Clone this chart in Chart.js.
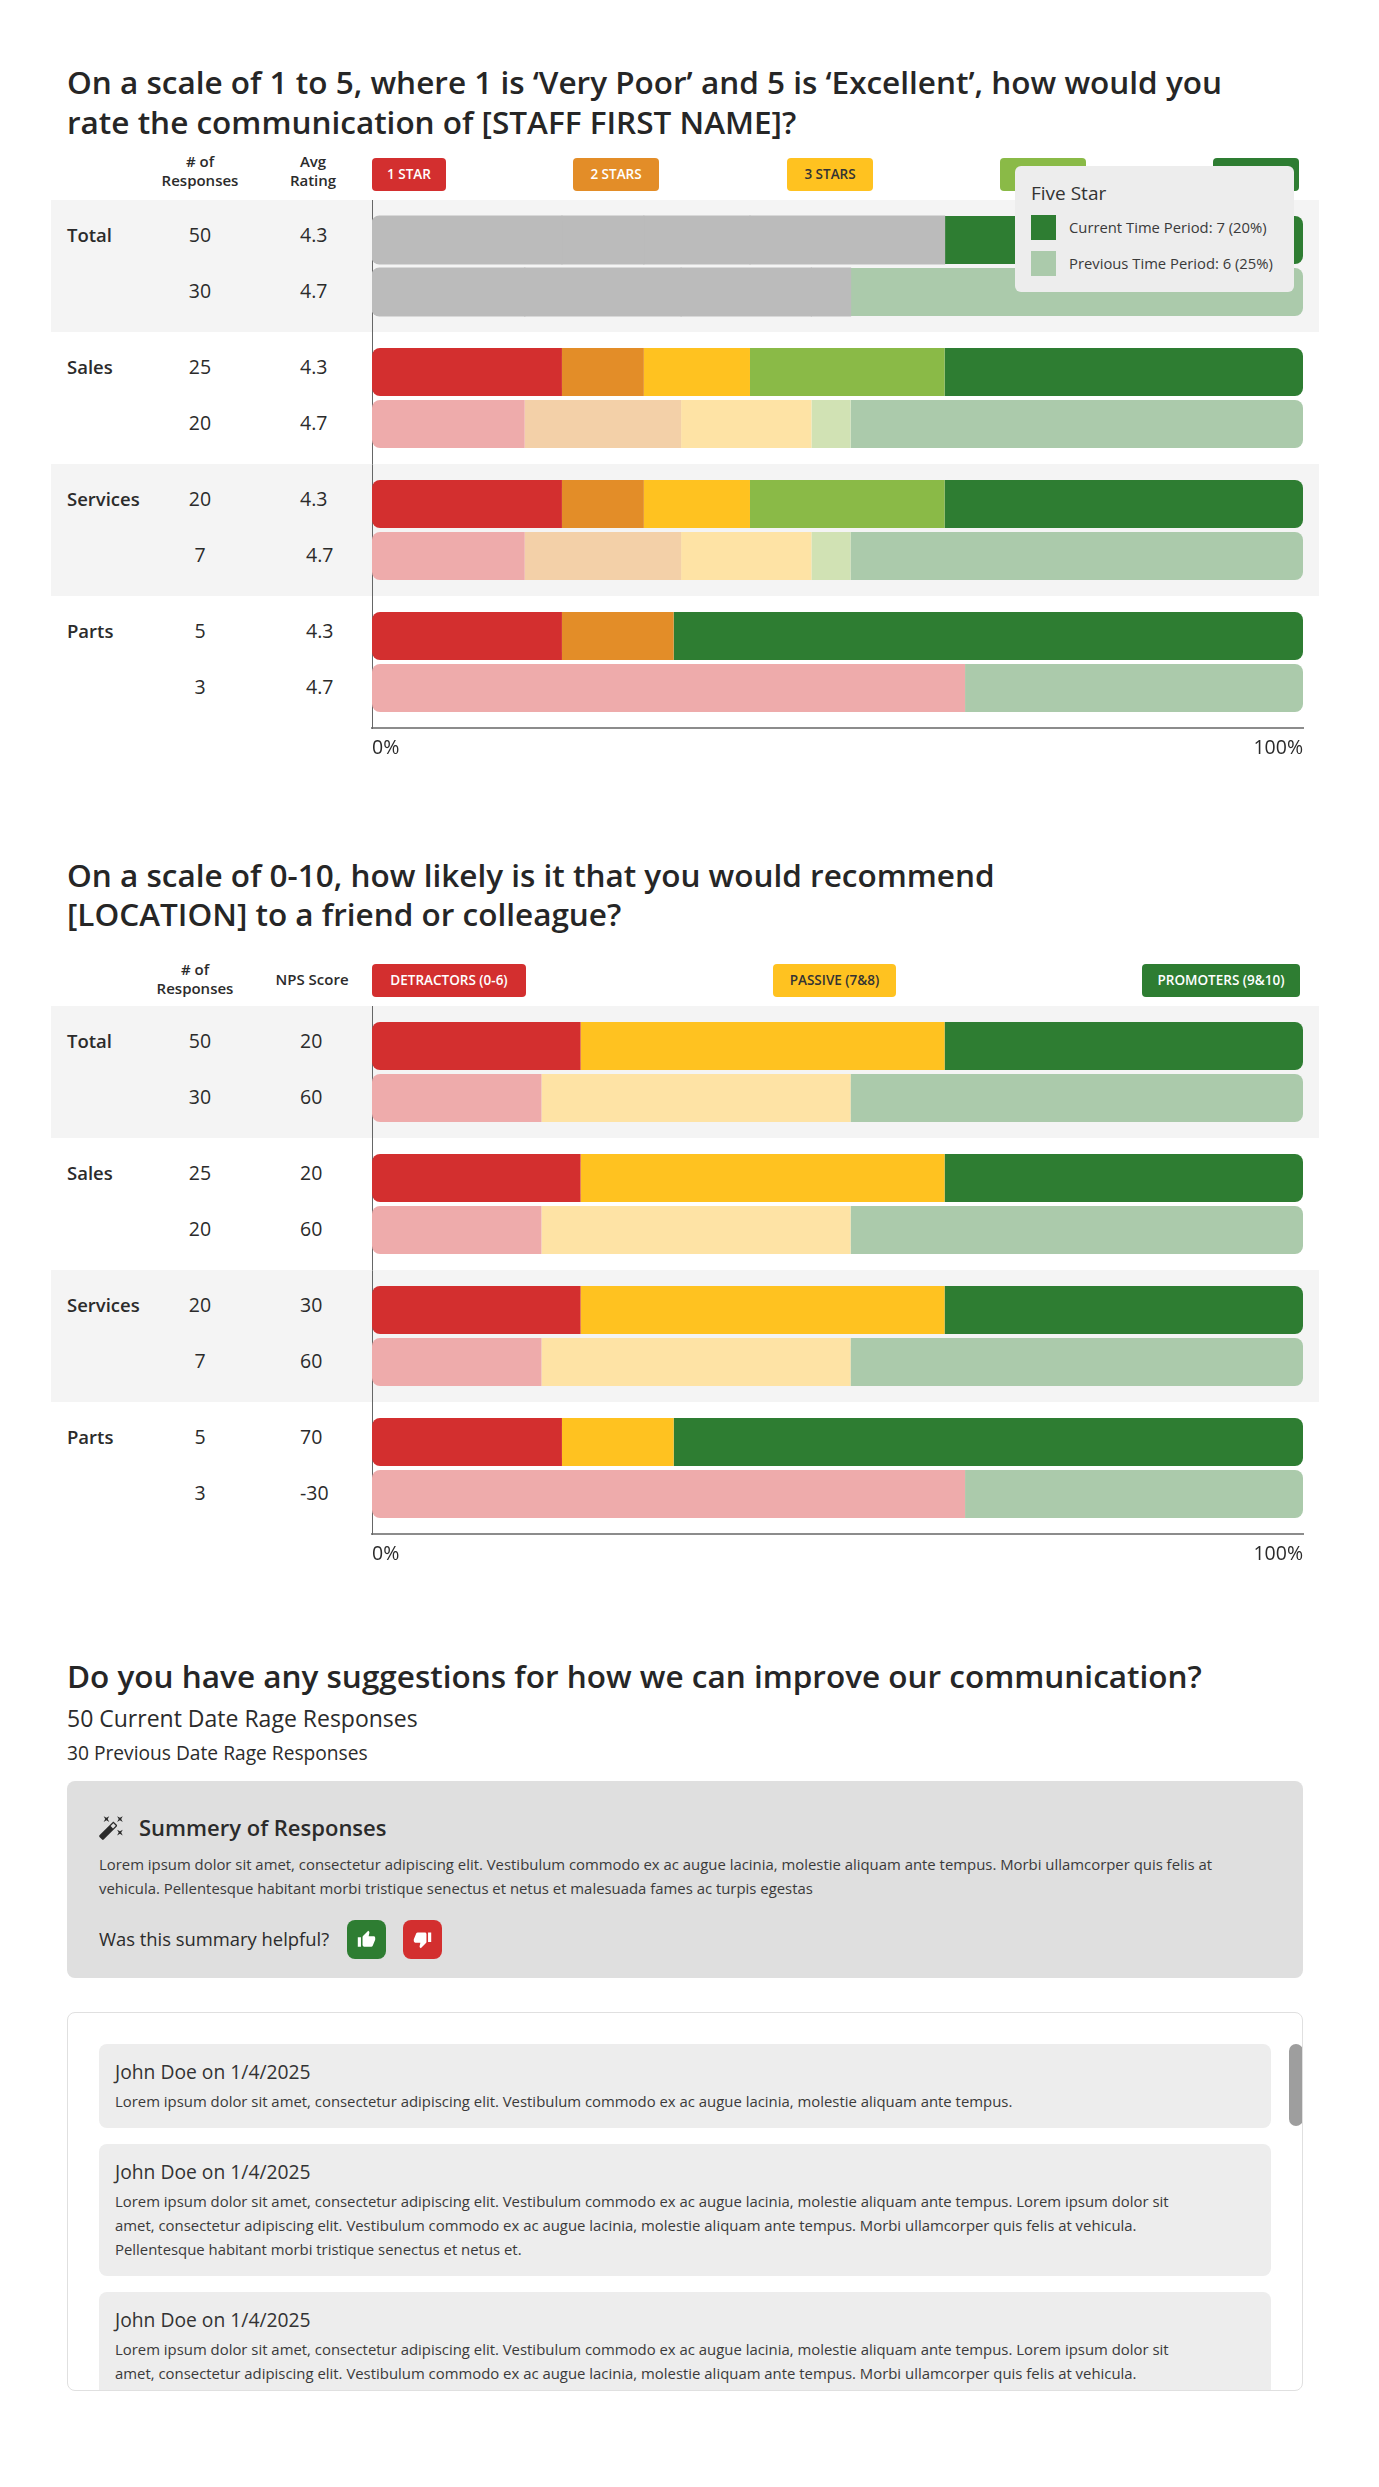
<!DOCTYPE html>
<html>
<head>
<meta charset="utf-8">
<title>Survey results</title>
<script src="https://cdn.jsdelivr.net/npm/chart.js@4"></script>
<style>
    html, body { margin: 0; padding: 0; background: #fff; }
    body { position: relative; width: 1379px; height: 2487px; overflow: hidden; font-family: "Open Sans", sans-serif; color: #2b2b2b; }
    .abs { position: absolute; }
    .mid { position: absolute; transform: translateY(-50%); white-space: nowrap; line-height: 1.2; }
    .center { transform: translate(-50%, -50%); text-align: center; }
    .title { font-size: 31.5px; font-weight: 600; color: #262626; }
    .headLabel { font-size: 15px; font-weight: 600; }
    .rowLabel { font-size: 18.5px; font-weight: 600; }
    .rowValue { font-size: 19.5px; }
    .rowBand { position: absolute; left: 51px; width: 1268px; height: 132px; background: #f4f4f4; }
    .pill { position: absolute; height: 33px; line-height: 33px; border-radius: 4px; text-align: center; font-size: 13.5px; font-weight: 600; color: #fff; white-space: nowrap; }
    canvas { position: absolute; left: 360px; }
    .tooltipBox { position: absolute; left: 1015px; top: 166px; width: 279px; height: 126px; background: #ededed; border-radius: 6px; z-index: 5; }
    .swatch { position: absolute; left: 16px; width: 25px; height: 25px; }
    .summary { position: absolute; left: 67px; top: 1781px; width: 1236px; height: 197px; background: #dfdfdf; border-radius: 8px; }
    .iconBtn { position: absolute; top: 1920px; width: 39px; height: 39px; border-radius: 8px; }
    .iconBtn svg { position: absolute; left: 10px; top: 10px; width: 19px; height: 19px; fill: #fff; }
    .responses { position: absolute; left: 67px; top: 2012px; width: 1234px; height: 377px; border: 1px solid #e0e0e0; border-radius: 8px; overflow: hidden; }
    .card { position: absolute; left: 31px; width: 1172px; background: #ededed; border-radius: 8px; }
    .thumb { position: absolute; left: 1221px; top: 31px; width: 14px; height: 82px; background: #9e9e9e; border-radius: 7px; }
    .small { font-size: 14.9px; color: #3a3a3a; }
    .name { font-size: 19.3px; color: #333; }
</style>
</head>
<body>
<script>
// ---- first question, share of responses per rating (%) ----
const groups = ["Total", "Sales", "Services", "Parts"];

const oneStarCurrent = [20.4, 20.4, 20.4, 20.4];
const twoStarCurrent = [8.8, 8.8, 8.8, 12];
const threeStarCurrent = [11.4, 11.4, 11.4, 0];
const fourStarCurrent = [20.9, 20.9, 20.9, 0];
const fiveStarCurrent = [38.5, 38.5, 38.5, 67.6];

const oneStarPrevious = [16.4, 16.4, 16.4, 63.7];
const twoStarPrevious = [16.8, 16.8, 16.8, 0];
const threeStarPrevious = [14, 14, 14, 0];
const fourStarPrevious = [4.2, 4.2, 4.2, 0];
const fiveStarPrevious = [48.6, 48.6, 48.6, 36.3];

const ratingCountRows = ["50", "30", "25", "20", "20", "7", "5", "3"];
const ratingScoreRows = ["4.3", "4.7", "4.3", "4.7", "4.3", "4.7", "4.3", "4.7"];
const ratingLabels = ["1 STAR", "2 STARS", "3 STARS", "4 STARS", "5 STARS"];

// ---- second question, NPS buckets (%) ----
const detractorsCurrent = [22.4, 22.4, 22.4, 20.4];
const passiveCurrent = [39.1, 39.1, 39.1, 12];
const promotersCurrent = [38.5, 38.5, 38.5, 67.6];

const detractorsPrevious = [18.2, 18.2, 18.2, 63.7];
const passivePrevious = [33.2, 33.2, 33.2, 0];
const promotersPrevious = [48.6, 48.6, 48.6, 36.3];

const npsCountRows = ["50", "30", "25", "20", "20", "7", "5", "3"];
const npsScoreRows = ["20", "60", "20", "60", "30", "60", "70", "-30"];
const npsLabels = ["DETRACTORS (0-6)", "PASSIVE (7&8)", "PROMOTERS (9&10)"];

const axisTicks = [0, 100];

const tooltipTitle = "Five Star";
const tooltipLines = ["Current Time Period: 7 (20%)", "Previous Time Period: 6 (25%)"];

const red = ["#d32f2f", "#eeabab"];
const orange = ["#e38d28", "#f3d0a8"];
const yellow = ["#ffc220", "#fee3a5"];
const lime = ["#8aba47", "#d1e2b4"];
const green = ["#2e7d32", "#abcaab"];
const dimmed = "#bbbbbb";

Chart.defaults.font.family = "'Open Sans', sans-serif";
Chart.defaults.color = "#2b2b2b";

const addText = function (text, x, y, cls, centered) {
    const el = document.createElement("div");
    el.className = "mid " + cls + (centered ? " center" : "");
    el.style.left = x + "px";
    el.style.top = y + "px";
    el.innerHTML = text;
    document.body.appendChild(el);
    return el;
};

const addPill = function (text, left, right, top, color, textColor) {
    const el = document.createElement("div");
    el.className = "pill";
    el.style.left = left + "px";
    el.style.width = (right - left) + "px";
    el.style.top = top + "px";
    el.style.background = color;
    el.style.color = textColor || "#fff";
    el.textContent = text;
    document.body.appendChild(el);
};

// outer ends of a stacked bar get round corners, the inner joins stay square
const stackCorners = function (ctx) {
    const stackName = ctx.dataset.stack;
    const sets = ctx.chart.data.datasets.filter(d => d.stack === stackName && d.data[ctx.dataIndex] > 0);
    const isFirst = sets[0] === ctx.dataset;
    const isLast = sets[sets.length - 1] === ctx.dataset;
    return {
        topLeft: isFirst ? 8 : 0,
        bottomLeft: isFirst ? 8 : 0,
        topRight: isLast ? 8 : 0,
        bottomRight: isLast ? 8 : 0
    };
};

const makeDataset = function (label, values, colors, period) {
    const color = colors[period === "current" ? 0 : 1];
    return {
        label: label,
        data: values,
        stack: period,
        backgroundColor: values.map(() => color),
        borderRadius: stackCorners,
        borderSkipped: false,
        categoryPercentage: 104 / 132,
        barPercentage: 48 / 52
    };
};

const drawChart = function (top, datasets) {
    const canvas = document.createElement("canvas");
    canvas.width = 959;
    canvas.height = 570;
    canvas.style.top = top + "px";
    document.body.appendChild(canvas);

    new Chart(canvas.getContext("2d"), {
        type: "bar",
        data: { labels: groups, datasets: datasets },
        options: {
            indexAxis: "y",
            responsive: false,
            animation: false,
            layout: { padding: { left: 12, right: 16, top: 0, bottom: 0 } },
            plugins: { legend: { display: false }, tooltip: { enabled: false } },
            scales: {
                x: {
                    stacked: true,
                    min: 0,
                    max: 100,
                    afterBuildTicks: (axis) => { axis.ticks = axisTicks.map(v => ({ value: v })); },
                    afterFit: (axis) => { axis.height = 42; },
                    grid: { display: false, drawTicks: false },
                    border: { color: "#8c8c8c", width: 2 },
                    ticks: {
                        align: "inner",
                        padding: 9,
                        maxRotation: 0,
                        font: { size: 19.5 },
                        callback: (v) => v + "%"
                    }
                },
                y: {
                    stacked: true,
                    afterFit: (axis) => { axis.width = 0; },
                    grid: { display: false, drawTicks: false },
                    border: { color: "#666666", width: 1 },
                    ticks: { display: false }
                }
            }
        }
    });
};

const addRows = function (top, counts, scores, scoreLeft) {
    groups.forEach((name, g) => {
        const rowTop = top + g * 132;
        if (g % 2 === 0) {
            const band = document.createElement("div");
            band.className = "rowBand";
            band.style.top = rowTop + "px";
            document.body.appendChild(band);
        }
        addText(name, 67, rowTop + 35, "rowLabel");
        [0, 1].forEach(r => {
            const i = g * 2 + r;
            const y = rowTop + (r === 0 ? 35 : 91);
            addText(counts[i], 200, y, "rowValue", true);
            addText(scores[i], scoreLeft(i), y, "rowValue");
        });
    });
};

// ---- question 1 ----
addText("On a scale of 1 to 5, where 1 is ‘Very Poor’ and 5 is ‘Excellent’, how would you", 67, 82, "title");
addText("rate the communication of [STAFF FIRST NAME]?", 67, 122, "title");
addText("# of", 200, 161, "headLabel", true);
addText("Responses", 200, 180, "headLabel", true);
addText("Avg", 313, 161, "headLabel", true);
addText("Rating", 313, 180, "headLabel", true);
addPill(ratingLabels[0], 372, 446, 158, red[0]);
addPill(ratingLabels[1], 573, 659, 158, orange[0]);
addPill(ratingLabels[2], 787, 873, 158, yellow[0], "#333");
addPill(ratingLabels[3], 1000, 1086, 158, lime[0]);
addPill(ratingLabels[4], 1213, 1299, 158, green[0]);
addRows(200, ratingCountRows, ratingScoreRows, i => (i >= 5 ? 306 : 300));

const ratingDatasets = [
    makeDataset("One Star", oneStarCurrent, red, "current"),
    makeDataset("Two Star", twoStarCurrent, orange, "current"),
    makeDataset("Three Star", threeStarCurrent, yellow, "current"),
    makeDataset("Four Star", fourStarCurrent, lime, "current"),
    makeDataset("Five Star", fiveStarCurrent, green, "current"),
    makeDataset("One Star", oneStarPrevious, red, "previous"),
    makeDataset("Two Star", twoStarPrevious, orange, "previous"),
    makeDataset("Three Star", threeStarPrevious, yellow, "previous"),
    makeDataset("Four Star", fourStarPrevious, lime, "previous"),
    makeDataset("Five Star", fiveStarPrevious, green, "previous")
];
// Five Star is hovered on the Total row, so the other ratings are greyed there
ratingDatasets.forEach(d => {
    if (d.label !== "Five Star") {
        d.backgroundColor[0] = dimmed;
        d.inflateAmount = (ctx) => (ctx.dataIndex === 0 ? 0.6 : "auto");
    }
});
drawChart(200, ratingDatasets);

const tip = document.createElement("div");
tip.className = "tooltipBox";
tip.innerHTML =
    '<div class="mid" style="left:16px;top:27px;font-size:19px;color:#333">' + tooltipTitle + '</div>' +
    '<div class="swatch" style="top:49px;background:' + green[0] + '"></div>' +
    '<div class="mid small" style="left:54px;top:62px;font-size:14.8px">' + tooltipLines[0] + '</div>' +
    '<div class="swatch" style="top:85px;background:' + green[1] + '"></div>' +
    '<div class="mid small" style="left:54px;top:98px;font-size:14.8px">' + tooltipLines[1] + '</div>';
document.body.appendChild(tip);

// ---- question 2 ----
addText("On a scale of 0-10, how likely is it that you would recommend", 67, 875, "title");
addText("[LOCATION] to a friend or colleague?", 67, 914, "title");
addText("# of", 195, 969, "headLabel", true);
addText("Responses", 195, 988, "headLabel", true);
addText("NPS Score", 312, 979, "headLabel", true);
addPill(npsLabels[0], 372, 526, 964, red[0]);
addPill(npsLabels[1], 773, 896, 964, yellow[0], "#333");
addPill(npsLabels[2], 1142, 1300, 964, green[0]);
addRows(1006, npsCountRows, npsScoreRows, () => 300);

drawChart(1006, [
    makeDataset("Detractors", detractorsCurrent, red, "current"),
    makeDataset("Passive", passiveCurrent, yellow, "current"),
    makeDataset("Promoters", promotersCurrent, green, "current"),
    makeDataset("Detractors", detractorsPrevious, red, "previous"),
    makeDataset("Passive", passivePrevious, yellow, "previous"),
    makeDataset("Promoters", promotersPrevious, green, "previous")
]);

// ---- open text question ----
const loremShort = "Lorem ipsum dolor sit amet, consectetur adipiscing elit. Vestibulum commodo ex ac augue lacinia, molestie aliquam ante tempus.";
const loremLong1 = loremShort + " Lorem ipsum dolor sit";
const loremLong2 = "amet, consectetur adipiscing elit. Vestibulum commodo ex ac augue lacinia, molestie aliquam ante tempus. Morbi ullamcorper quis felis at vehicula.";
const loremLong3 = "Pellentesque habitant morbi tristique senectus et netus et.";

addText("Do you have any suggestions for how we can improve our communication?", 67, 1676, "title");
addText("50 Current Date Rage Responses", 67, 1719, "", false).style.fontSize = "23px";
addText("30 Previous Date Rage Responses", 67, 1753, "", false).style.fontSize = "19.2px";

const summary = document.createElement("div");
summary.className = "summary";
document.body.appendChild(summary);
document.body.insertAdjacentHTML("beforeend",
    '<svg class="abs" style="left:98px;top:1814px;width:27px;height:27px" viewBox="0 0 24 24" fill="#2b2b2b"><path d="M7.5 5.6L10 7 8.6 4.5 10 2 7.5 3.4 5 2l1.4 2.5L5 7zm12 9.8L17 14l1.4 2.5L17 19l2.5-1.4L22 19l-1.4-2.5L22 14zM22 2l-2.5 1.4L17 2l1.4 2.5L17 7l2.5-1.4L22 7l-1.4-2.5zm-7.63 5.29c-.39-.39-1.02-.39-1.41 0L1.29 18.96c-.39.39-.39 1.02 0 1.41l2.34 2.34c.39.39 1.02.39 1.41 0L16.7 11.05c.39-.39.39-1.02 0-1.41l-2.33-2.35zm-1.03 5.49l-2.12-2.12 2.44-2.44 2.12 2.12-2.44 2.44z"/></svg>' +
    '<div class="iconBtn" style="left:347px;background:' + green[0] + '"><svg viewBox="0 0 24 24"><path d="M1 21h4V9H1v12zm22-11c0-1.1-.9-2-2-2h-6.31l.95-4.57.03-.32c0-.41-.17-.79-.44-1.06L14.17 1 7.59 7.59C7.22 7.95 7 8.45 7 9v10c0 1.1.9 2 2 2h9c.83 0 1.54-.5 1.84-1.22l3.02-7.05c.09-.23.14-.47.14-.73v-2z"/></svg></div>' +
    '<div class="iconBtn" style="left:403px;background:' + red[0] + '"><svg viewBox="0 0 24 24"><path d="M15 3H6c-.83 0-1.54.5-1.84 1.22l-3.02 7.05c-.09.23-.14.47-.14.73v2c0 1.1.9 2 2 2h6.31l-.95 4.57-.03.32c0 .41.17.79.44 1.06L9.83 23l6.59-6.59c.36-.36.58-.86.58-1.41V5c0-1.1-.9-2-2-2zm4 0v12h4V3h-4z"/></svg></div>');
addText("Summery of Responses", 139, 1827, "", false).style.cssText += "font-size:22px;font-weight:600";
addText("Lorem ipsum dolor sit amet, consectetur adipiscing elit. Vestibulum commodo ex ac augue lacinia, molestie aliquam ante tempus. Morbi ullamcorper quis felis at", 99, 1865, "small");
addText("vehicula. Pellentesque habitant morbi tristique senectus et netus et malesuada fames ac turpis egestas", 99, 1889, "small");
addText("Was this summary helpful?", 99, 1939, "", false).style.fontSize = "18.4px";

const box = document.createElement("div");
box.className = "responses";
document.body.appendChild(box);

const addCard = function (top, height, lines) {
    const card = document.createElement("div");
    card.className = "card";
    card.style.top = top + "px";
    card.style.height = height + "px";
    let html = '<div class="mid name" style="left:16px;top:28px">John Doe on 1/4/2025</div>';
    lines.forEach((line, i) => {
        html += '<div class="mid small" style="left:16px;top:' + (58 + i * 24) + 'px">' + line + '</div>';
    });
    card.innerHTML = html;
    box.appendChild(card);
};

addCard(31, 84, [loremShort]);
addCard(131, 132, [loremLong1, loremLong2, loremLong3]);
addCard(279, 132, [loremLong1, loremLong2, loremLong3]);

const thumb = document.createElement("div");
thumb.className = "thumb";
box.appendChild(thumb);
</script>
</body>
</html>
